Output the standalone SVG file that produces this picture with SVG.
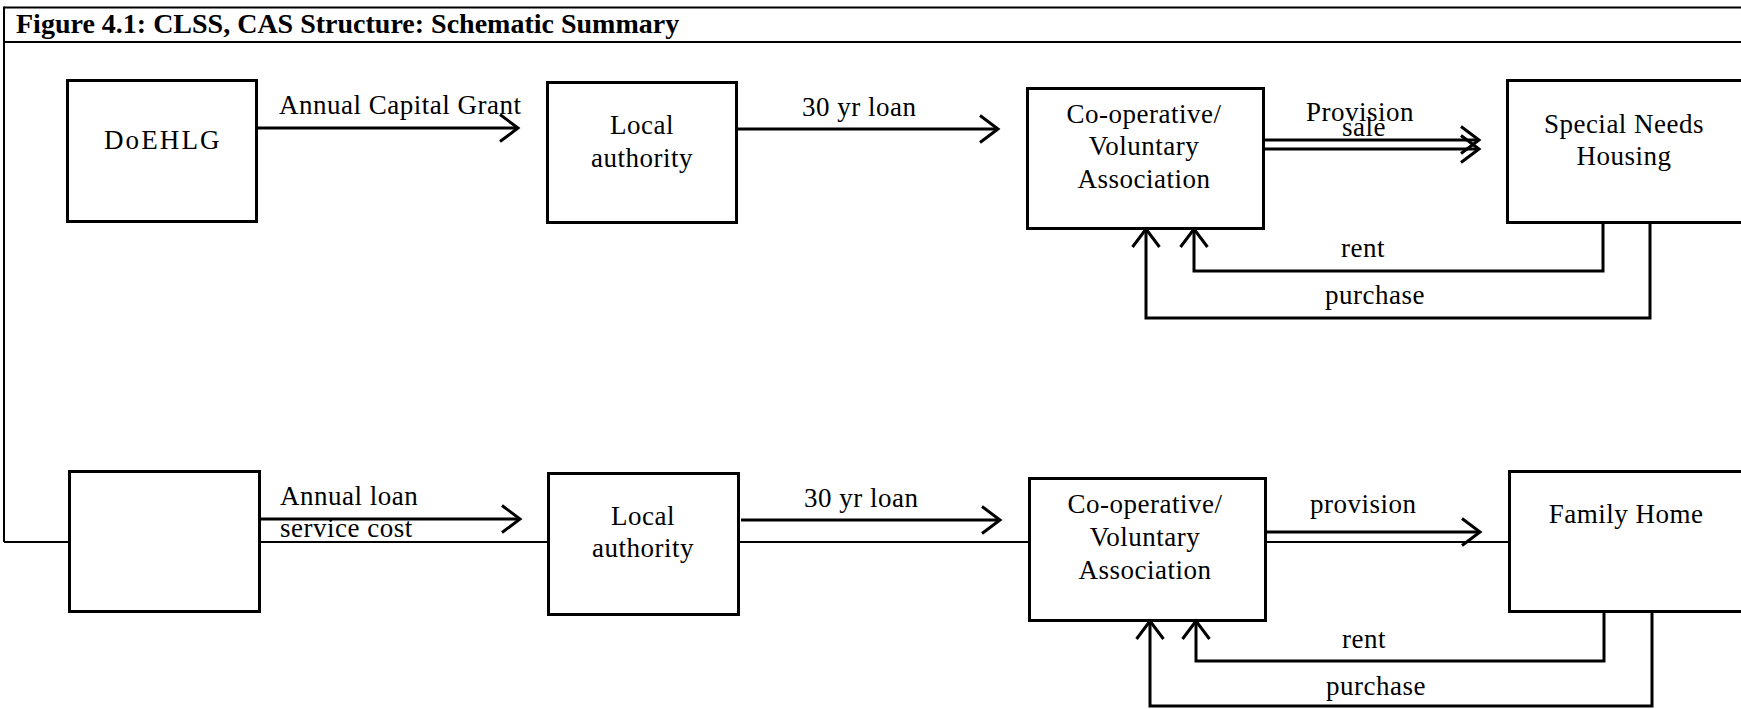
<svg xmlns="http://www.w3.org/2000/svg" width="1741" height="709" viewBox="0 0 1741 709">
<style>
.t{font-family:"Liberation Serif","Times New Roman",serif;font-size:27px;fill:#000;letter-spacing:0.5px}
.m{text-anchor:middle}
.title{font-family:"Liberation Serif","Times New Roman",serif;font-size:28px;font-weight:bold;fill:#000}
.box{fill:#fff;stroke:#000;stroke-width:3}
.fr{fill:none;stroke:#000;stroke-width:2}
.ar{fill:none;stroke:#000;stroke-width:3;marker-end:url(#chev)}
</style>
<defs>
<marker id="chev" viewBox="-22 -17 26 34" refX="0" refY="0" markerWidth="26" markerHeight="34" markerUnits="userSpaceOnUse" orient="auto">
<path d="M-18,-13.5 L0,0 L-18,13.5" fill="none" stroke="#000" stroke-width="3"/>
</marker>
</defs>
<rect x="0" y="0" width="1741" height="709" fill="#fff"/>
<g id="frame">
<path class="fr" d="M4,7.5 H1741" stroke-width="2.4"/>
<path class="fr" d="M4,42 H1741"/>
<path class="fr" d="M4,6.5 V542"/>
<path class="fr" d="M4,542 H1741" stroke-width="1.7"/>
<text class="title" x="16" y="33">Figure 4.1: CLSS, CAS Structure: Schematic Summary</text>
</g>
<g id="n_doehlg"><rect class="box" x="67.5" y="80.5" width="189" height="141"/><text class="t m" x="162" y="149" textLength="116">DoEHLG</text></g>
<g id="n_la1"><rect class="box" x="547.5" y="82.5" width="189" height="140"/><text class="t m" x="642" y="134">Local</text><text class="t m" x="642" y="167">authority</text></g>
<g id="n_cv1"><rect class="box" x="1027.5" y="88.5" width="236" height="140"/><text class="t m" x="1144" y="123">Co-operative/</text><text class="t m" x="1144" y="155">Voluntary</text><text class="t m" x="1144" y="188">Association</text></g>
<g id="n_snh"><rect class="box" x="1507.5" y="80.5" width="236" height="142"/><text class="t m" x="1624" y="133">Special Needs</text><text class="t m" x="1624" y="165">Housing</text></g>
<g id="n_blank"><rect class="box" x="69.5" y="471.5" width="190" height="140"/></g>
<g id="n_la2"><rect class="box" x="548.5" y="473.5" width="190" height="141"/><text class="t m" x="643" y="525">Local</text><text class="t m" x="643" y="557">authority</text></g>
<g id="n_cv2"><rect class="box" x="1029.5" y="478.5" width="236" height="142"/><text class="t m" x="1145" y="513">Co-operative/</text><text class="t m" x="1145" y="546">Voluntary</text><text class="t m" x="1145" y="579">Association</text></g>
<g id="n_fh"><rect class="box" x="1509.5" y="471.5" width="236" height="140"/><text class="t m" x="1626" y="523">Family Home</text></g>
<g id="connectors">
<path class="ar" d="M258,128 H518"/>
<path class="ar" d="M738,129 H998"/>
<path class="ar" d="M1265,140 H1479"/>
<path class="ar" d="M1265,149 H1479"/>
<path class="ar" d="M1603,223 V271 H1194 V229"/>
<path class="ar" d="M1650,223 V318 H1146 V229"/>
<path class="ar" d="M261,519 H520"/>
<path class="ar" d="M741,520 H1000"/>
<path class="ar" d="M1267,532 H1480"/>
<path class="ar" d="M1604,613 V661 H1196 V621"/>
<path class="ar" d="M1652,613 V706 H1150 V621"/>
<text class="t" x="279" y="114">Annual Capital Grant</text>
<text class="t" x="802" y="116">30 yr loan</text>
<text class="t" x="1306" y="121">Provision</text>
<text class="t" x="1342" y="136">sale</text>
<text class="t" x="1341" y="257">rent</text>
<text class="t" x="1325" y="304">purchase</text>
<text class="t" x="280" y="505">Annual loan</text>
<text class="t" x="280" y="537">service cost</text>
<text class="t" x="804" y="507">30 yr loan</text>
<text class="t" x="1310" y="513">provision</text>
<text class="t" x="1342" y="648">rent</text>
<text class="t" x="1326" y="695">purchase</text>
</g>
</svg>
